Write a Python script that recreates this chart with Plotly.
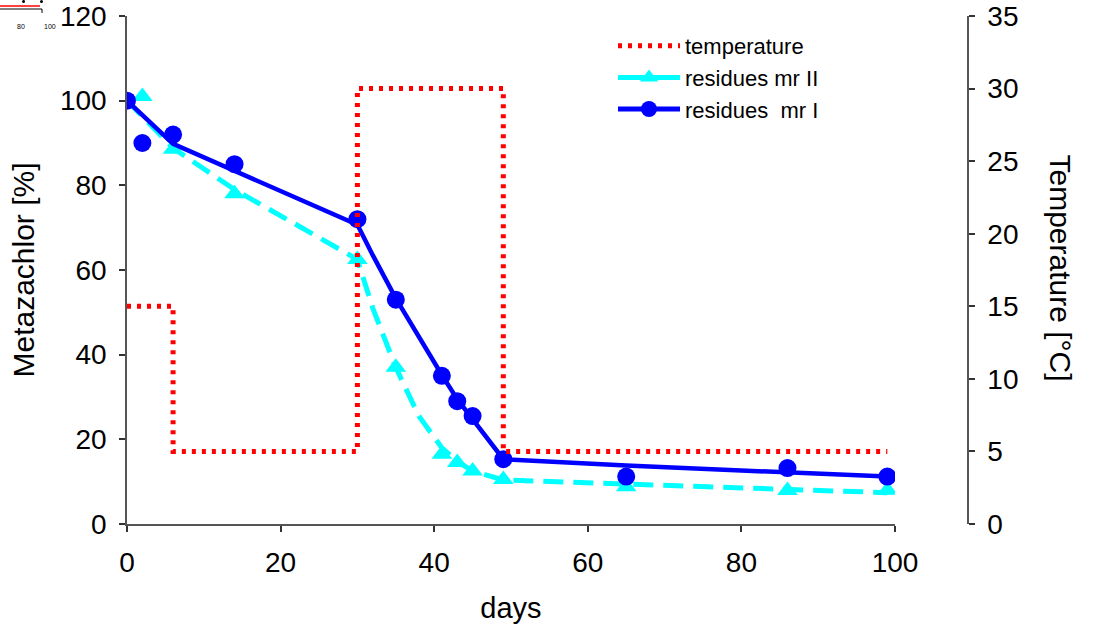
import plotly.graph_objects as go

# ---------------- data ----------------
temp_days = [0, 6, 30, 49, 99]
temp_vals = [15, 5, 30, 5, 5]

mr1_days = [0, 2, 6, 14, 30, 35, 41, 43, 45, 49, 65, 86, 99]
mr1_vals = [100, 90, 92, 85, 72, 53, 35, 29, 25.5, 15.3, 11.2, 13.2, 11.2]

mr2_days = [2, 6, 14, 30, 35, 41, 43, 45, 49, 65, 86, 99]
mr2_vals = [101, 88.5, 78, 62.5, 37, 16.5, 14.5, 12.5, 10.5, 8.8, 7.9, 8.0]

fit1_days = [0, 6, 30, 32, 35, 38, 41, 43, 46, 49, 65, 86, 99]
fit1_vals = [100, 89.8, 70.7, 63.5, 53.3, 44, 35.2, 29.5, 22.2, 15.3, 13.8, 12.3, 11.2]

fit2_days = [0, 6, 14, 30, 32, 35, 38, 41, 43, 45, 49, 65, 86, 99]
fit2_vals = [100, 88.8, 79, 62.5, 51, 37, 25.5, 18, 14.8, 12.5, 10.4, 9.4, 8.1, 7.4]

x_ticks = [0, 20, 40, 60, 80, 100]
y_ticks = [0, 20, 40, 60, 80, 100, 120]
y2_ticks = [0, 5, 10, 15, 20, 25, 30, 35]

# ---------------- layout geometry ----------------
W, H = 1104, 629
ML, MR, MT, MB = 127, 136, 16, 105
PW, PH = W - ML - MR, H - MT - MB
XDOM_END = (895 - ML) / PW


def px(xp):
    return (xp - ML) / PW


def py(yp):
    return 1 - (yp - MT) / PH


FONT = "Liberation Sans, Arial, sans-serif"
AXC = "#555555"

fig = go.Figure()

fig.add_trace(go.Scatter(
    x=temp_days, y=temp_vals, yaxis="y2", mode="lines", line_shape="hv",
    line=dict(color="#FF0000", width=5, dash="4px,6px"),
    name="temperature"))

fig.add_trace(go.Scatter(
    x=fit2_days, y=fit2_vals, mode="lines",
    line=dict(color="#00FFFF", width=5, dash="20px,10px"),
    showlegend=False, hoverinfo="skip"))
fig.add_trace(go.Scatter(
    x=mr2_days, y=mr2_vals, mode="markers",
    marker=dict(symbol="triangle-up", size=18, color="#00FFFF"),
    showlegend=False))
fig.add_trace(go.Scatter(
    x=[None], y=[None], mode="lines+markers",
    line=dict(color="#00FFFF", width=5),
    marker=dict(symbol="triangle-up", size=18, color="#00FFFF"),
    name="residues mr II"))

fig.add_trace(go.Scatter(
    x=fit1_days, y=fit1_vals, mode="lines",
    line=dict(color="#0000FF", width=4.5),
    showlegend=False, hoverinfo="skip"))
fig.add_trace(go.Scatter(
    x=mr1_days, y=mr1_vals, mode="markers",
    marker=dict(symbol="circle", size=18, color="#0000FF"),
    showlegend=False))
fig.add_trace(go.Scatter(
    x=[None], y=[None], mode="lines+markers",
    line=dict(color="#0000FF", width=5),
    marker=dict(symbol="circle", size=18, color="#0000FF"),
    name="residues  mr I"))

axis_common = dict(showgrid=False, zeroline=False, showline=True,
                   linecolor=AXC, linewidth=1.5, ticks="outside",
                   ticklen=6, tickwidth=1.5, tickcolor="#333333",
                   ticklabelstandoff=7, automargin=False,
                   tickfont=dict(size=28, color="#000000", family=FONT))

fig.update_layout(
    width=W, height=H,
    margin=dict(l=ML, r=MR, t=MT, b=MB, pad=0, autoexpand=False),
    paper_bgcolor="white", plot_bgcolor="white",
    font=dict(family=FONT, color="#000000"),
    xaxis=dict(range=[0, 100], domain=[0, XDOM_END], tickvals=x_ticks,
               title=dict(text="days", font=dict(size=29), standoff=20),
               **axis_common),
    yaxis=dict(range=[0, 120], tickvals=y_ticks,
               title=dict(text="Metazachlor [%]", font=dict(size=30), standoff=16),
               **axis_common),
    yaxis2=dict(range=[0, 35], tickvals=y2_ticks, overlaying="y", side="right",
                anchor="free", position=1.0, **axis_common),
    legend=dict(x=px(613), y=py(25), xanchor="left", yanchor="top",
                font=dict(size=22, family=FONT), bgcolor="rgba(0,0,0,0)",
                itemwidth=62, tracegroupgap=0, traceorder="normal"),
    showlegend=True,
)

fig.add_annotation(text="Temperature [°C]", textangle=90, xref="paper", yref="paper",
                   x=px(1079), y=py(268), showarrow=False,
                   font=dict(size=30, family=FONT, color="#000000"))

# small cropped fragment in the top-left corner
fig.add_shape(type="line", xref="paper", yref="paper", x0=px(0), x1=px(40), y0=py(6), y1=py(6),
              line=dict(color="#FF0000", width=1.5))
fig.add_shape(type="line", xref="paper", yref="paper", x0=px(0), x1=px(42), y0=py(9), y1=py(9),
              line=dict(color="#000000", width=1))
fig.add_shape(type="line", xref="paper", yref="paper", x0=px(42), x1=px(42), y0=py(9), y1=py(13),
              line=dict(color="#000000", width=1))
fig.add_shape(type="circle", xref="paper", yref="paper", x0=px(22), x1=px(25), y0=py(0), y1=py(3),
              fillcolor="#000000", line=dict(width=0))
fig.add_shape(type="circle", xref="paper", yref="paper", x0=px(40), x1=px(43), y0=py(0), y1=py(3),
              fillcolor="#000000", line=dict(width=0))
fig.add_annotation(text="80", xref="paper", yref="paper", x=px(15), y=py(21), showarrow=False,
                   font=dict(size=7, family=FONT, color="#000000"))
fig.add_annotation(text="100", xref="paper", yref="paper", x=px(42), y=py(21), showarrow=False,
                   font=dict(size=7, family=FONT, color="#000000"))

fig.write_html("out.html")
